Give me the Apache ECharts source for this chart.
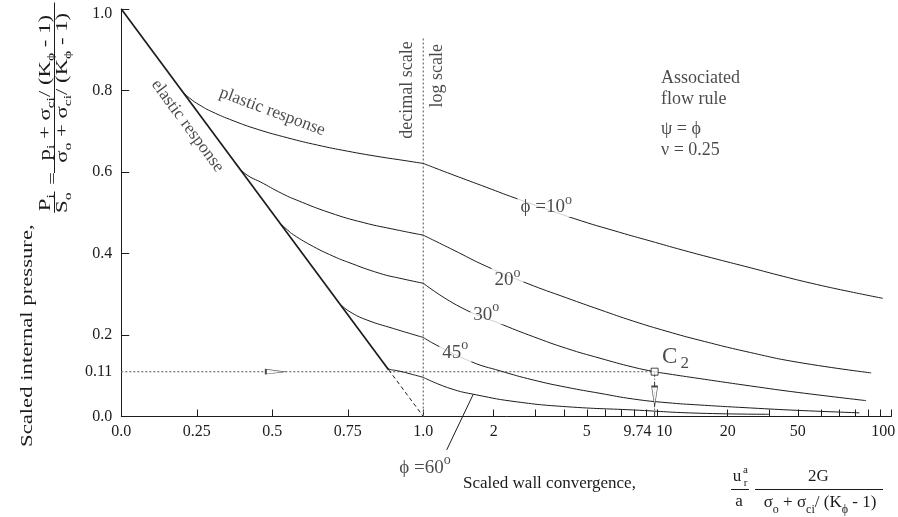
<!DOCTYPE html>
<html>
<head>
<meta charset="utf-8">
<script src="https://cdn.jsdelivr.net/npm/echarts@6/dist/echarts.min.js"></script>
<style>
  html, body { margin: 0; padding: 0; background: #fff; }
  #chart { width: 898px; height: 517px; }
</style>
</head>
<body>
<div id="chart"></div>
<script>
// Ground reaction curves: scaled internal pressure against scaled wall convergence.
// Convergence runs on a decimal scale from 0 to 1, then on a log scale from 1 to 100.

// ---------- data: [convergence, pressure] ----------
const elasticLine = [[0, 1.0], [0.885, 0.115]];
const elasticTail = [[0.885, 0.115], [1.0, 0.0]];

const phi10 = [[0.2, 0.8], [0.225, 0.782], [0.26, 0.764], [0.3, 0.748], [0.37, 0.726], [0.45, 0.705],
  [0.55, 0.684], [0.65, 0.666], [0.75, 0.651], [0.85, 0.638], [0.93, 0.629], [1.0, 0.621],
  [1.34, 0.593], [1.87, 0.562], [2.47, 0.536], [4.4, 0.486], [6.9, 0.452], [9.3, 0.431],
  [12.9, 0.408], [18, 0.386], [25, 0.365], [34.5, 0.344], [48, 0.324], [67, 0.306], [92, 0.290]];

const phi20 = [[0.377, 0.623], [0.41, 0.596], [0.47, 0.572], [0.53, 0.548], [0.581, 0.531],
  [0.691, 0.500], [0.801, 0.476], [0.912, 0.458], [1.0, 0.445],
  [1.34, 0.409], [1.87, 0.368], [2.77, 0.327], [4.1, 0.291], [5.69, 0.262], [7.9, 0.234],
  [11, 0.209], [15.2, 0.187], [25, 0.157], [40, 0.133], [82, 0.107]];

const phi30 = [[0.525, 0.475], [0.55, 0.458], [0.57, 0.446], [0.636, 0.417], [0.70, 0.394],
  [0.746, 0.380], [0.857, 0.351], [0.93, 0.338], [1.0, 0.327],
  [1.435, 0.269], [2.2, 0.2245], [2.95, 0.196], [4.1, 0.167], [5.69, 0.143], [7.9, 0.121],
  [9.74, 0.11], [11, 0.105], [15.2, 0.093], [25, 0.075], [40, 0.059], [78, 0.039]];

const phi45 = [[0.724, 0.276], [0.757, 0.257], [0.8126, 0.237], [0.9007, 0.216], [1.0, 0.194],
  [1.14, 0.175], [1.61, 0.134], [2.13, 0.112], [2.95, 0.0896], [4.1, 0.0717], [5.69, 0.0569],
  [7.9, 0.0429], [11, 0.0339], [15.2, 0.0282], [25, 0.021], [40, 0.015], [73, 0.009]];

const phi60 = [[0.87, 0.13], [0.88, 0.1195], [0.89, 0.1155], [0.905, 0.1135], [0.923, 0.111],
  [0.96, 0.104], [1.0, 0.096],
  [1.3, 0.069], [1.69, 0.053], [2.51, 0.036], [4.1, 0.024], [7.9, 0.016], [15.2, 0.008], [30, 0.0055]];

// design point C2
const pointC2 = [9.74, 0.11];

// ---------- axes ----------
const xTickValues = [0.25, 0.5, 0.75, 1, 2, 3, 4, 5, 6, 7, 8, 9, 10, 20, 30, 40, 50, 60, 70, 80, 90, 100];
const xLabelValues = [0, 0.25, 0.5, 0.75, 1, 2, 5, 9.74, 10, 20, 50, 100];
const xLabelTexts = ['0.0', '0.25', '0.5', '0.75', '1.0', '2', '5', '9.74', '10', '20', '50', '100'];
const yTickValues = [0.2, 0.4, 0.6, 0.8, 1.0];
const yLabelValues = [0, 0.11, 0.2, 0.4, 0.6, 0.8, 1.0];
const yLabelTexts = ['0.0', '0.11', '0.2', '0.4', '0.6', '0.8', '1.0'];

// ---------- styling ----------
const SERIF = '"Liberation Serif", "DejaVu Serif", serif';
const INK = '#1c1c1c';
const GUIDE = '#7a7a7a';

// length of one log decade relative to the decimal span 0..1
const DECADE = 234 / 302;
function tx(u) { return u <= 1 ? u : 1 + DECADE * Math.log10(u); }
const P = (pt) => [tx(pt[0]), pt[1]];

// horizontal nudges (px) for crowded tick labels
const xLabelNudge = { '9.74': -17, '10': 7, '50': -23, '100': -8 };
const yLabelNudge = { '1.0': 5 };

const xRich = {}, yRich = {};
Object.keys(xLabelNudge).forEach((k, i) => {
  const n = xLabelNudge[k];
  xRich['x' + i] = { fontFamily: SERIF, fontSize: 16, color: INK,
    padding: n < 0 ? [0, -2 * n, 0, 0] : [0, 0, 0, 2 * n] };
});
Object.keys(yLabelNudge).forEach((k, i) => {
  const n = yLabelNudge[k];
  yRich['y' + i] = { fontFamily: SERIF, fontSize: 16, color: INK, padding: [2 * n, 0, 0, 0] };
});

function lookup(values, texts, v, map) {
  let best = 0;
  values.forEach((u, i) => { if (Math.abs(map(u) - v) < Math.abs(map(values[best]) - v)) best = i; });
  return texts[best];
}
function xFormatter(v) {
  const t = lookup(xLabelValues, xLabelTexts, v, tx);
  const k = Object.keys(xLabelNudge).indexOf(t);
  return k >= 0 ? '{x' + k + '|' + t + '}' : t;
}
function yFormatter(v) {
  const t = lookup(yLabelValues, yLabelTexts, v, (u) => u);
  const k = Object.keys(yLabelNudge).indexOf(t);
  return k >= 0 ? '{y' + k + '|' + t + '}' : t;
}

// ---------- series ----------
function curve(pts) {
  return {
    type: 'line', data: pts.map(P), symbol: 'none', showSymbol: false,
    smooth: 0.5, silent: true, clip: false, z: 3,
    lineStyle: { color: INK, width: 1 }
  };
}
function straight(pts, lineStyle, z) {
  return { type: 'line', data: pts.map(P), symbol: 'none', showSymbol: false, smooth: false,
    silent: true, clip: false, z: z || 2, lineStyle: lineStyle };
}
function splitCurve(pts) {
  return [curve(pts.filter(p => p[0] <= 1)), curve(pts.filter(p => p[0] >= 1))];
}

const degRich = {
  n: { fontFamily: SERIF, fontSize: 19, color: INK, lineHeight: 24, verticalAlign: 'bottom' },
  o: { fontFamily: SERIF, fontSize: 14, color: INK, lineHeight: 7, verticalAlign: 'top' }
};
const c2Rich = {
  c: { fontFamily: SERIF, fontSize: 23, color: INK, lineHeight: 26, verticalAlign: 'top' },
  t: { fontFamily: SERIF, fontSize: 17, color: INK, lineHeight: 16, verticalAlign: 'top', padding: [10, 0, 0, 3] }
};

function note(at, text, opts) {
  return {
    value: P(at),
    label: Object.assign({
      show: true, position: 'inside', formatter: text,
      fontFamily: SERIF, fontSize: 18, color: INK
    }, opts || {})
  };
}
const curveNoteStyle = { rich: degRich, backgroundColor: '#fff', padding: [0, 3, 0, 3] };

const notes = [
  note([3.35, 0.519], '{n|\u03D5 =10}{o|o}', curveNoteStyle),
  note([2.29, 0.340], '{n|20}{o|o}', curveNoteStyle),
  note([1.86, 0.255], '{n|30}{o|o}', curveNoteStyle),
  note([1.37, 0.162], '{n|45}{o|o}', curveNoteStyle),
  note([1.017, -0.121], '{n|\u03D5 =60}{o|o}', { rich: degRich }),
  note([0.219, 0.713], 'elastic response', { rotate: -53.5, fontSize: 17.5 }),
  note([0.50, 0.748], 'plastic response', { rotate: -20.5, fontSize: 17.5 }),
  note([0.946, 0.801], 'decimal scale', { rotate: 90 }),
  note([1.144, 0.836], 'log scale', { rotate: 90 }),
  note([10.37, 0.830], 'Associated', { align: 'left' }),
  note([10.37, 0.778], 'flow rule', { align: 'left' }),
  note([10.37, 0.7055], '\u03C8 = \u03D5', { align: 'left' }),
  note([10.37, 0.654], '\u03BD = 0.25', { align: 'left' }),
  note([11.96, 0.1436], '{c|C}{t|2}', { rich: c2Rich })
];

const series = [];
series.push(straight(elasticLine, { color: INK, width: 1.7 }, 4));
series.push(straight(elasticTail, { color: INK, width: 1, type: [4, 3] }, 2));
[phi10, phi20, phi30, phi45, phi60].forEach(c => series.push(...splitCurve(c)));

// scale divider and the reading path for C2
series.push(straight([[1, 0], [1, 0.932]], { color: GUIDE, width: 1.3, type: [2, 2] }, 1));
series.push(straight([[0, pointC2[1]], pointC2], { color: GUIDE, width: 1.3, type: [2, 2] }, 1));
series.push(straight([pointC2, [pointC2[0], 0]], { color: '#333', width: 1, type: [5, 2, 1, 2] }, 2));

// leader from the 60 degree curve to its label
series.push(straight([[1.636, 0.055], [1.259, -0.082]], { color: INK, width: 1 }, 3));

// arrows along the reading path, and the C2 marker
series.push({
  type: 'scatter', silent: true, clip: false, z: 7,
  itemStyle: { color: '#fff', borderColor: INK, borderWidth: 1 },
  data: [
    { value: P([0.51, pointC2[1]]), symbol: 'triangle', symbolSize: [5, 19], symbolRotate: -90 },
    { value: P([pointC2[0], 0.049]), symbol: 'triangle', symbolSize: [6, 20], symbolRotate: 180 },
    { value: P(pointC2), symbol: 'rect', symbolSize: 7 }
  ]
});

series.push({
  type: 'scatter', silent: true, clip: false, z: 6, symbolSize: 1,
  itemStyle: { color: 'rgba(0,0,0,0)' },
  data: notes
});

// ---------- axis titles (drawn as graphic text) ----------
const subRich = (m, s) => ({
  m: { fontFamily: SERIF, fontSize: m, fill: INK, lineHeight: m + 2, verticalAlign: 'top' },
  s: { fontFamily: SERIF, fontSize: s, fill: INK, lineHeight: s + 2, verticalAlign: 'top', padding: [Math.round(m * 0.5), 0, 0, 0] }
});
function gtext(x, y, text, size, align, rich) {
  const style = { text: text, fontFamily: SERIF, fontSize: size, fill: INK,
    align: align || 'center', verticalAlign: 'middle',
    textAlign: align || 'center', textVerticalAlign: 'middle' };
  if (rich) style.rich = rich;
  return { type: 'text', x: x, y: y, style: style, silent: true };
}
function gline(x1, y1, x2, y2) {
  return { type: 'line', shape: { x1: x1, y1: y1, x2: x2, y2: y2 }, style: { stroke: INK, lineWidth: 1 }, silent: true };
}

const leftRich = subRich(16, 11);
const yTitle = {
  type: 'group', x: 0, y: 447, rotation: Math.PI / 2, scaleX: 1.42,
  children: [
    gtext(0, 28, 'Scaled internal pressure,', 16, 'left'),
    gtext(172, 47, '{m|P}{s|i}', 16, 'center', leftRich),
    gtext(172, 64, '{m|S}{s|o}', 16, 'center', leftRich),
    gline(165, 54.5, 180, 54.5),
    gtext(189, 54, '=', 16, 'center'),
    gtext(253, 47, '{m|p}{s|i}{m| + \u03C3}{s|ci}{m|/ (K}{s|\u03D5}{m| - 1)}', 16, 'center', leftRich),
    gtext(253, 64, '{m|\u03C3}{s|o}{m| + \u03C3}{s|ci}{m|/ (K}{s|\u03D5}{m| - 1)}', 16, 'center', leftRich),
    gline(193, 54.5, 313, 54.5)
  ]
};

const bottomRich = subRich(17, 12);
const xTitle = [
  gtext(463, 484, 'Scaled wall convergence,', 17, 'left'),
  gtext(737, 477, 'u', 17, 'center'),
  gtext(745.5, 470, 'a', 11, 'center'),
  gtext(745.5, 483.5, 'r', 11, 'center'),
  gline(731, 489.5, 749, 489.5),
  gtext(739, 502, 'a', 17, 'center'),
  gtext(818.5, 476.5, '2G', 17, 'center'),
  gline(755, 489.5, 883, 489.5),
  gtext(820, 504, '{m|\u03C3}{s|o}{m| + \u03C3}{s|ci}{m|/ (K}{s|\u03D5}{m| - 1)}', 17, 'center', bottomRich)
];

const option = {
  animation: false,
  backgroundColor: '#fff',
  grid: { left: 121.3, right: 6.7, top: 9, bottom: 100.5, containLabel: false, outerBoundsMode: 'none' },
  xAxis: {
    type: 'value', min: 0, max: tx(100),
    axisLine: { show: true, onZero: false, lineStyle: { color: INK, width: 1 } },
    axisTick: { show: true, inside: true, length: 7, customValues: xTickValues.map(tx), lineStyle: { color: INK } },
    axisLabel: { show: true, customValues: xLabelValues.map(tx), formatter: xFormatter, margin: 7,
      fontFamily: SERIF, fontSize: 16, color: INK, rich: xRich },
    splitLine: { show: false }
  },
  yAxis: {
    type: 'value', min: 0, max: 1,
    axisLine: { show: true, onZero: false, lineStyle: { color: INK, width: 1 } },
    axisTick: { show: true, inside: true, length: 8, customValues: yTickValues, lineStyle: { color: INK } },
    axisLabel: { show: true, customValues: yLabelValues, formatter: yFormatter, margin: 9,
      fontFamily: SERIF, fontSize: 16, color: INK, rich: yRich },
    splitLine: { show: false }
  },
  graphic: { elements: [yTitle].concat(xTitle) },
  series: series
};

const chart = echarts.init(document.getElementById('chart'), null, { renderer: 'canvas' });
chart.setOption(option);
</script>
</body>
</html>
